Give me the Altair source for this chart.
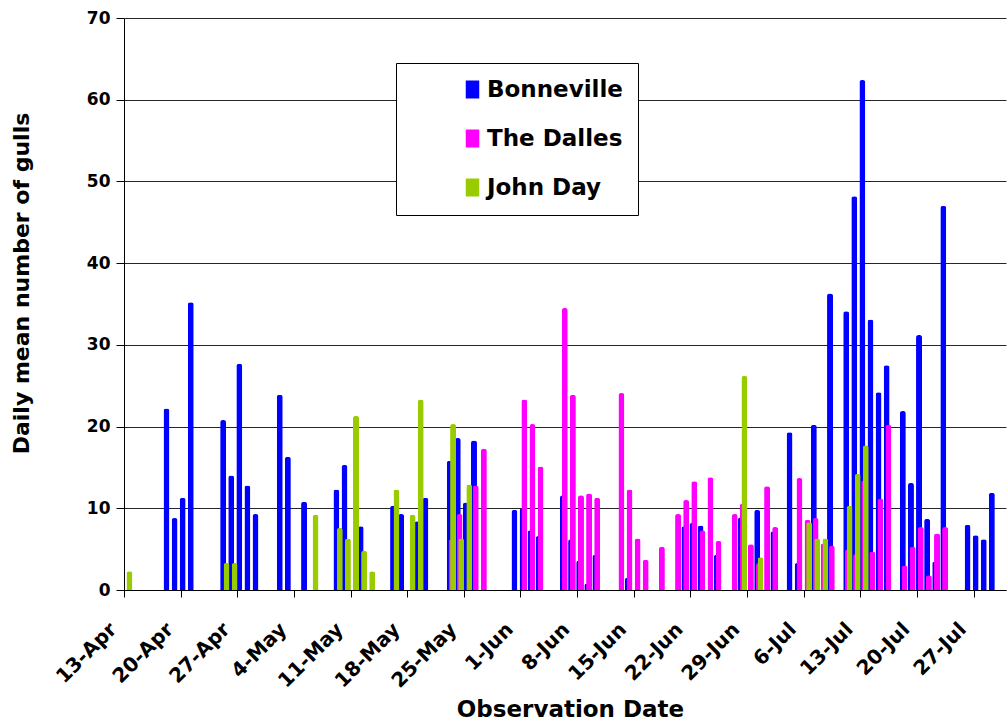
import altair as alt
import pandas as pd

YEAR = 2004
sites = ["Bonneville", "The Dalles", "John Day"]
colors = ["#0000FF", "#FF00FF", "#99CC00"]

# Daily mean gull counts (month-day, value)
bonneville_dates = ["04-18", "04-19", "04-20", "04-21", "04-25", "04-26", "04-27", "04-28", "04-29",
                    "05-02", "05-03", "05-05", "05-09", "05-10", "05-12", "05-16", "05-17", "05-19",
                    "05-20", "05-23", "05-24", "05-25", "05-26", "05-31", "06-01", "06-02", "06-03",
                    "06-06", "06-07", "06-08", "06-09", "06-10", "06-14", "06-21", "06-22", "06-23",
                    "06-25", "06-28", "06-30", "07-02", "07-04", "07-05", "07-07", "07-09", "07-11",
                    "07-12", "07-13", "07-14", "07-15", "07-16", "07-18", "07-19", "07-20", "07-21",
                    "07-22", "07-23", "07-26", "07-27", "07-28", "07-29"]
bonneville_vals = [22.2, 8.8, 11.3, 35.2, 20.8, 14.0, 27.7, 12.8, 9.3,
                   23.9, 16.3, 10.8, 12.3, 15.3, 7.8, 10.3, 9.3, 8.4,
                   11.3, 15.8, 18.6, 10.7, 18.3, 9.8, 10.0, 7.3, 6.6,
                   11.6, 6.2, 3.6, 0.8, 4.3, 1.5, 7.8, 8.2, 7.9,
                   4.3, 8.9, 9.8, 7.2, 19.3, 3.3, 20.2, 36.3, 34.1,
                   48.2, 62.4, 33.1, 24.2, 27.5, 21.9, 13.1, 31.2, 8.7,
                   3.5, 47.0, 8.0, 6.7, 6.2, 11.9]

dalles_dates = ["05-23", "05-24", "05-26", "05-27", "06-01", "06-02", "06-03", "06-06", "06-07",
                "06-08", "06-09", "06-10", "06-13", "06-14", "06-15", "06-16", "06-18", "06-20",
                "06-21", "06-22", "06-23", "06-24", "06-25", "06-27", "06-28", "06-29", "06-30",
                "07-01", "07-02", "07-05", "07-06", "07-07", "07-08", "07-09", "07-11", "07-12",
                "07-13", "07-14", "07-15", "07-16", "07-18", "07-19", "07-20", "07-21", "07-22",
                "07-23"]
dalles_vals = [6.2, 9.3, 12.8, 17.3, 23.3, 20.3, 15.1, 34.5, 23.9,
               11.6, 11.8, 11.3, 24.1, 12.3, 6.3, 3.7, 5.3, 9.3,
               11.0, 13.3, 7.3, 13.8, 6.0, 9.3, 10.6, 5.6, 3.3,
               12.7, 7.7, 13.7, 8.6, 8.8, 5.7, 5.4, 5.0, 4.4,
               13.4, 4.7, 11.2, 20.2, 3.0, 5.3, 7.7, 1.8, 6.9,
               7.7]

johnday_dates = ["04-13", "04-25", "04-26", "05-06", "05-09", "05-10", "05-11", "05-12", "05-13",
                 "05-16", "05-18", "05-19", "05-23", "05-24", "05-25", "06-28", "06-30", "07-06",
                 "07-07", "07-08", "07-11", "07-12", "07-13"]
johnday_vals = [2.3, 3.3, 3.3, 9.2, 7.6, 6.3, 21.3, 4.8, 2.3,
                12.3, 9.2, 23.3, 20.3, 6.3, 12.9, 26.2, 4.0, 8.3,
                6.3, 6.3, 10.3, 14.2, 17.7]

# Weekly tick positions on the date axis
tick_dates = ["04-13", "04-20", "04-27", "05-04", "05-11", "05-18", "05-25", "06-01",
              "06-08", "06-15", "06-22", "06-29", "07-06", "07-13", "07-20", "07-27"]
y_ticks = [0, 10, 20, 30, 40, 50, 60, 70]

DAY_MS = 86400000


def utc_ms(md):
    """Milliseconds since epoch for midnight UTC of a month-day."""
    return int(pd.Timestamp(f"{YEAR}-{md}", tz="UTC").value // 1_000_000)


series = {
    "Bonneville": (bonneville_dates, bonneville_vals),
    "The Dalles": (dalles_dates, dalles_vals),
    "John Day": (johnday_dates, johnday_vals),
}
rows = []
for site, (dates, vals) in series.items():
    for d, v in zip(dates, vals):
        # bars sit in the middle of their day
        rows.append({"site": site, "date": utc_ms(d) + DAY_MS // 2, "count": v})
df = pd.DataFrame(rows)

FONT = "DejaVu Sans"

x_enc = alt.X(
    "date:T",
    scale=alt.Scale(type="utc", domain=[utc_ms("04-13"), utc_ms("07-31")], nice=False, padding=0),
    axis=alt.Axis(
        values=[utc_ms(t) for t in tick_dates],
        labelExpr="utcFormat(datum.value, '%-d-%b')",
        labelAngle=-45,
        labelAlign="right",
        labelBaseline="middle",
        labelFont=FONT,
        labelFontWeight="bold",
        labelFontSize=20,
        labelColor="#000000",
        labelPadding=29,
        labelOffset=-11,
        labelOverlap=False,
        labelFlush=False,
        labelBound=False,
        tickSize=7,
        tickColor="#000000",
        domainColor="#000000",
        grid=False,
        title="Observation Date",
        titleFont=FONT,
        titleFontWeight="bold",
        titleFontSize=23,
        titleColor="#000000",
        titleAlign="center",
        titleBaseline="alphabetic",
        titleX=446,
        titleY=126,
    ),
)
y_enc = alt.Y(
    "count:Q",
    scale=alt.Scale(domain=[0, 70], nice=False),
    axis=alt.Axis(
        values=y_ticks,
        format="d",
        labelFont=FONT,
        labelFontWeight="bold",
        labelFontSize=17,
        labelColor="#000000",
        labelPadding=6,
        tickSize=8,
        tickColor="#000000",
        domainColor="#000000",
        grid=True,
        gridColor="#000000",
        gridOpacity=0.85,
        gridWidth=1,
        title="Daily mean number of gulls",
        titleFont=FONT,
        titleFontWeight="bold",
        titleFontSize=22,
        titleColor="#000000",
        titleAngle=-90,
        titleAlign="center",
        titleBaseline="alphabetic",
        titleX=-96,
        titleY=265,
    ),
)
color_enc = alt.Color(
    "site:N",
    scale=alt.Scale(domain=sites, range=colors),
    legend=alt.Legend(
        title=None,
        orient="none",
        legendX=272,
        legendY=45,
        direction="vertical",
        padding=15,
        strokeColor="#000000",
        fillColor="#FFFFFF",
        symbolType="M-0.75,-1H0.75V1H-0.75Z",
        symbolSize=324,
        symbolStrokeWidth=0,
        symbolOffset=50,
        labelOffset=3,
        labelFont=FONT,
        labelFontWeight="bold",
        labelFontSize=23,
        labelColor="#000000",
        labelLimit=400,
        rowPadding=25,
    ),
)

base = alt.Chart(df).encode(x=x_enc, y=y_enc, color=color_enc)

offsets = {"Bonneville": -2.0, "The Dalles": -0.2, "John Day": 1.4}
layers = [
    base.transform_filter(alt.datum.site == s).mark_bar(
        size=6,
        xOffset=offsets[s],
        cornerRadiusTopLeft=2.5,
        cornerRadiusTopRight=2.5,
    )
    for s in sites
]

chart = (
    alt.layer(*layers)
    .properties(
        width=882,
        height=572,
        autosize="none",
        padding={"left": 124, "top": 18, "right": 2, "bottom": 131},
        background="#FFFFFF",
    )
    .configure_view(strokeWidth=0)
)

chart.save("out.html", embed_options={"renderer": "svg", "actions": False})
